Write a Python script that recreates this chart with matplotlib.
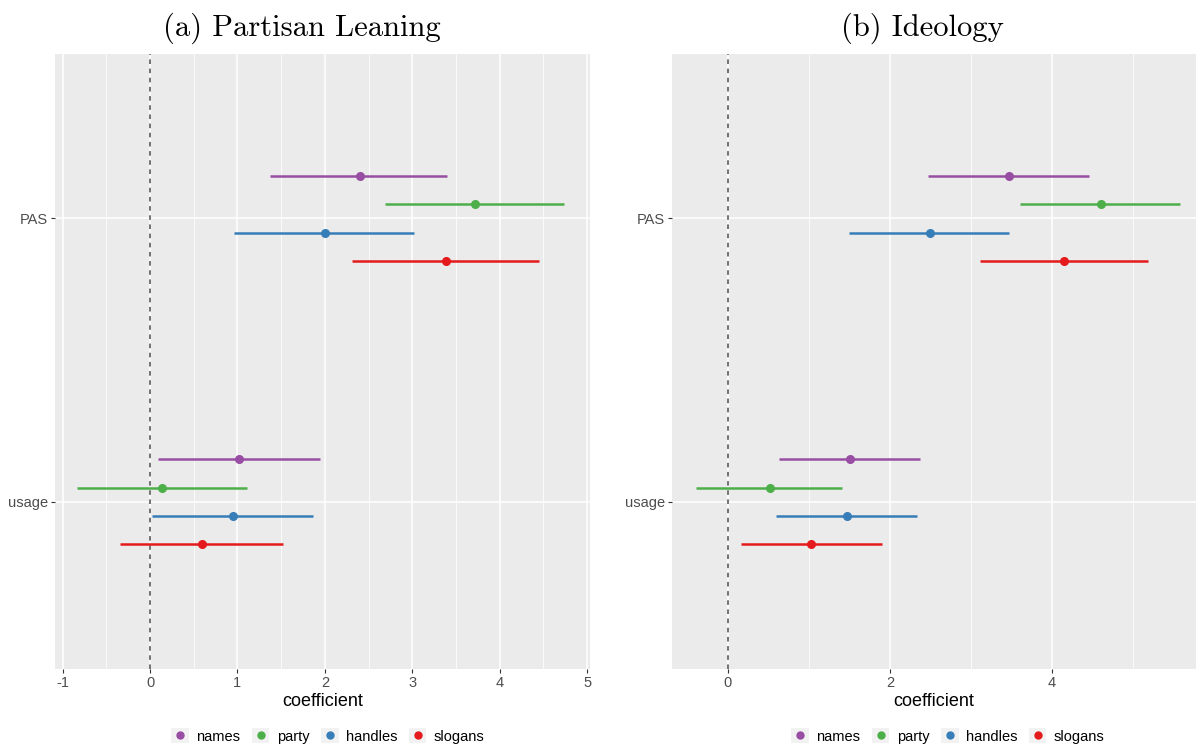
"""
Coefficient plots: partisan leaning and ideology
"""

from matplotlib import pyplot as plt
from matplotlib.patches import Rectangle
from matplotlib.lines import Line2D
from matplotlib.legend_handler import HandlerTuple
import numpy as np

plt.rcParams['font.family'] = ['Liberation Sans', 'DejaVu Sans']
plt.rcParams['axes.unicode_minus'] = False

# rows of the y axis, bottom to top
terms = ['usage', 'PAS']
groups = ['names', 'party', 'handles', 'slogans']
colors = ['#984EA3', '#4DAF4A', '#377EB8', '#E41A1C']
dodge = [0.15, 0.05, -0.05, -0.15]

# (a) Partisan Leaning: estimate, low, high per group, rows = terms
lean_est = {'names': [1.02, 2.40], 'party': [0.14, 3.72],
            'handles': [0.95, 2.00], 'slogans': [0.60, 3.39]}
lean_lo = {'names': [0.09, 1.37], 'party': [-0.84, 2.69],
           'handles': [0.02, 0.96], 'slogans': [-0.34, 2.31]}
lean_hi = {'names': [1.94, 3.40], 'party': [1.11, 4.74],
           'handles': [1.87, 3.02], 'slogans': [1.52, 4.45]}

# (b) Ideology
ideo_est = {'names': [1.51, 3.47], 'party': [0.52, 4.61],
            'handles': [1.47, 2.50], 'slogans': [1.03, 4.15]}
ideo_lo = {'names': [0.63, 2.47], 'party': [-0.40, 3.61],
           'handles': [0.59, 1.50], 'slogans': [0.16, 3.11]}
ideo_hi = {'names': [2.37, 4.46], 'party': [1.41, 5.58],
           'handles': [2.34, 3.47], 'slogans': [1.90, 5.19]}


def draw_panel(ax, est, lo, hi, title, title_x, xlim, major, minor):
    ax.set_facecolor('#EBEBEB')
    for s in ax.spines.values():
        s.set_visible(False)
    ax.set_xlim(*xlim)
    ax.set_ylim(0.41, 2.58)
    ax.set_xticks(major)
    ax.set_xticks(minor, minor=True)
    ax.set_yticks([1, 2])
    ax.set_yticklabels(terms)
    ax.grid(which='major', color='white', lw=1.1)
    ax.grid(which='minor', axis='x', color='white', lw=0.55)
    ax.set_axisbelow(True)
    ax.tick_params(which='major', length=3, width=0.8, color='#333333',
                   labelcolor='#4D4D4D', labelsize=10.5, pad=2)
    ax.tick_params(which='minor', length=0)
    ax.axvline(0, color='#4D4D4D', ls=(0, (3, 3)), lw=1.1, zorder=1)
    ypos = np.arange(1, len(terms) + 1)
    for g, c, d in zip(groups, colors, dodge):
        y = ypos + d
        ax.hlines(y, lo[g], hi[g], color=c, lw=1.8, zorder=2)
        ax.plot(est[g], y, 'o', color=c, ms=5.5, zorder=3)
    ax.set_xlabel('coefficient', fontsize=13, labelpad=2)
    ax.set_title(title, fontsize=22, family='cmr10', pad=13, x=title_x)


fig = plt.figure(figsize=(11.98, 7.46), dpi=100)
ax1 = fig.add_axes([0.0459, 0.1032, 0.4466, 0.8244])
ax2 = fig.add_axes([0.561, 0.1032, 0.4374, 0.8244])

draw_panel(ax1, lean_est, lean_lo, lean_hi, '(a) Partisan Leaning', 0.462,
           (-1.087, 5.034), np.arange(-1, 6), np.arange(-0.5, 5.5, 1))
draw_panel(ax2, ideo_est, ideo_lo, ideo_hi, '(b) Ideology', 0.477,
           (-0.69, 5.78), [0, 2, 4], [1, 3, 5])

for ax, xc in [(ax1, 328 / 1198), (ax2, 948 / 1198)]:
    handles = [(Rectangle((0, 0), 1, 1, fc='#F2F2F2', ec='none'),
                Line2D([], [], ls='', marker='o', color=c, ms=5))
               for c in colors]
    fig.legend(handles, groups, loc='center', ncol=4,
               bbox_to_anchor=(xc, 10 / 746), frameon=False,
               handler_map={tuple: HandlerTuple(ndivide=1, pad=0)},
               handlelength=1.2, handleheight=1.2, handletextpad=0.5,
               columnspacing=0.8, fontsize=10.5)

fig.savefig('out.png', dpi=100)
